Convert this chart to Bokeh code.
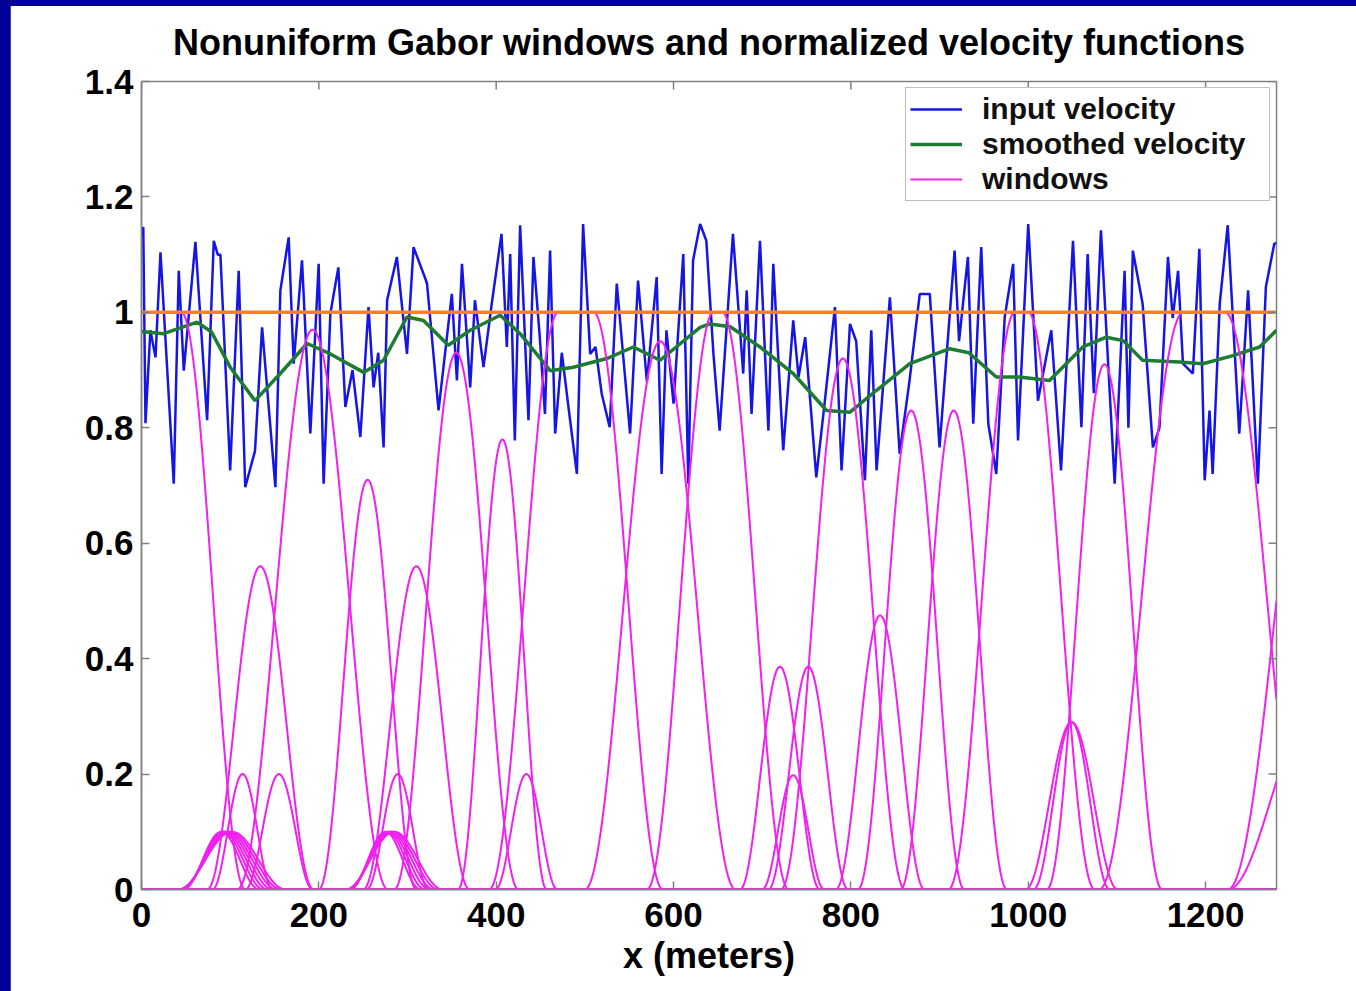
import numpy as np
from bokeh.plotting import figure
from bokeh.models import (Range1d, Legend, LegendItem, FixedTicker, InlineStyleSheet,
                          CustomJSTickFormatter)
from bokeh.layouts import column
from bokeh.embed import file_html
from bokeh.resources import INLINE

# ---------------- data ----------------
x_ticks = [0, 200, 400, 600, 800, 1000, 1200]
y_ticks = [0, 0.2, 0.4, 0.6, 0.8, 1.0, 1.2, 1.4]

vel_x = [0, 2, 4.5, 10, 15.8, 21.4, 36.4, 42, 47.7, 60.8, 74, 81.5, 86, 89, 100, 109.6, 117,
         128, 136, 151, 156.6, 166, 171.6, 181, 190.4, 199.8, 205.4, 213, 222, 229.9, 238,
         246.8, 256, 261.7, 267, 273, 277, 288, 299.4, 306.8, 318, 322, 335, 350, 355.7, 361.4,
         370.7, 376, 385.7, 395, 406, 412, 415.8, 421, 427, 436.4, 442, 449, 455, 460.8, 466.5,
         474, 481.5, 491, 498, 506, 512, 519, 528, 536, 551, 560, 570, 581, 586.6, 592, 600, 611,
         616.7, 622, 630, 637, 645, 652, 667, 678.6, 682.5, 688, 697.5, 707, 712.5, 723.7, 735,
         741, 748.5, 761, 770.7, 782, 789.5, 799, 806, 815.8, 823, 829, 844, 855, 866, 877.7,
         889, 900, 917, 922, 932, 938, 947, 955, 964, 973.5, 983, 988.5, 1000, 1011, 1026, 1037,
         1050.5, 1060, 1067, 1074, 1082, 1097.5, 1108.7, 1113, 1118, 1129, 1140.6, 1148, 1157.6,
         1163, 1169, 1174.5, 1185.7, 1193, 1199, 1204.5, 1208, 1216, 1225, 1238, 1248, 1259,
         1268, 1277.5, 1280]
vel_y = [1.13, 1.148, 0.808, 0.969, 0.922, 1.104, 0.703, 1.072, 0.899, 1.122, 0.813, 1.124,
         1.10, 1.10, 0.726, 1.072, 0.697, 0.76, 0.974, 0.697, 1.038, 1.130, 0.911, 1.09, 0.790,
         1.084, 0.703, 0.998, 1.078, 0.836, 0.90, 0.784, 1.009, 0.870, 0.93, 0.766, 1.021, 1.096,
         0.928, 1.113, 1.067, 1.05, 0.830, 1.032, 0.882, 1.084, 0.870, 1.021, 0.905, 1.015, 1.136,
         0.940, 1.101, 0.778, 1.151, 0.813, 1.096, 0.96, 0.824, 1.107, 0.790, 0.93, 0.836, 0.720,
         1.153, 0.928, 0.94, 0.859, 0.801, 1.050, 0.790, 1.055, 0.88, 1.061, 0.720, 0.969, 0.842,
         1.101, 0.703, 1.090, 1.153, 1.124, 0.928, 0.795, 1.136, 0.894, 1.038, 0.824, 1.124, 0.795,
         1.084, 0.761, 0.986, 0.888, 0.957, 0.714, 0.847, 1.009, 0.726, 0.980, 0.95, 0.709, 0.969,
         0.726, 1.026, 0.755, 0.88, 1.032, 1.032, 0.766, 1.107, 0.95, 1.096, 0.807, 1.113, 0.807,
         0.720, 0.992, 1.084, 0.778, 1.153, 0.847, 0.969, 0.726, 1.124, 0.801, 1.101, 0.86, 1.142,
         0.703, 1.072, 0.80, 1.107, 1.015, 0.766, 0.80, 1.096, 0.99, 1.072, 0.911, 0.894, 1.110,
         0.709, 0.830, 0.720, 1.015, 1.151, 0.790, 1.038, 0.703, 1.044, 1.119, 1.12]

smooth_x = [0, 25, 62.7, 79, 100, 128, 156.6, 186.7, 213, 250.5, 273, 299.4, 318, 346, 370.7,
            404.5, 427, 460.8, 487, 524.7, 554.7, 584.8, 630, 641, 664, 697.5, 735, 772.6, 799,
            829, 866.5, 911.5, 933, 964, 990, 1024, 1061.7, 1088, 1107, 1129, 1170.7, 1197,
            1230.8, 1261, 1280]
smooth_y = [0.967, 0.963, 0.983, 0.966, 0.905, 0.847, 0.894, 0.946, 0.928, 0.896, 0.917, 0.992,
            0.986, 0.943, 0.969, 0.995, 0.963, 0.899, 0.905, 0.920, 0.940, 0.917, 0.974, 0.980,
            0.975, 0.940, 0.894, 0.830, 0.827, 0.865, 0.911, 0.937, 0.930, 0.888, 0.888, 0.882,
            0.940, 0.957, 0.951, 0.917, 0.914, 0.911, 0.925, 0.940, 0.969]

ref_level = 1.0

# Gabor windows: left/right edge of the flat top, peak height, taper half-width (metres)
win_left = [-50, 193, 134, 255, 310, 355, 407, 470, 585, 645, 720, 752, 735, 791, 833, 868,
            916, 985, 1049, 1049, 1086, 1175, 1335, 1320, 114, 155, 289, 434,
            90, 92, 94, 96, 98, 100, 102, 275, 277, 279, 281, 283, 285]
win_right = [45, 193, 134, 255, 310, 355, 407, 510, 585, 655, 720, 752, 735, 791, 833, 868,
             916, 1000, 1049, 1049, 1086, 1222, 1335, 1320, 114, 155, 289, 434,
             90, 92, 94, 96, 98, 100, 102, 275, 277, 279, 281, 283, 285]
win_peak = [1.0, 0.97, 0.56, 0.71, 0.56, 0.93, 0.78, 1.0, 0.95, 1.0, 0.386, 0.386, 0.198,
            0.92, 0.475, 0.83, 0.83, 1.0, 0.29, 0.29, 0.91, 1.0, 1.0, 0.3, 0.2, 0.2, 0.2, 0.2,
            0.1, 0.1, 0.1, 0.1, 0.1, 0.1, 0.1, 0.1, 0.1, 0.1, 0.1, 0.1, 0.1]
win_half = [72, 85, 60, 55, 60, 70, 50, 78, 85, 75, 45, 45, 35, 70, 50, 60, 60, 75, 43, 52, 65,
            95, 110, 95, 34, 38, 35, 35, 43, 46, 49, 52, 55, 58, 61, 40, 43, 46, 49, 52, 55]

legend_labels = ["input velocity", "smoothed velocity", "windows"]
title_text = "Nonuniform Gabor windows and normalized velocity functions"
x_label = "x (meters)"

# ---------------- build window curves ----------------
xs_grid = np.linspace(0, 1280, 1281)
win_xs, win_ys = [], []
for cl, cr, a, w in zip(win_left, win_right, win_peak, win_half):
    d = np.where(xs_grid < cl, cl - xs_grid, np.where(xs_grid > cr, xs_grid - cr, 0.0))
    y = np.where(d < w, a * np.cos(np.pi / 2 * d / w) ** 2, 0.0)
    win_xs.append(xs_grid.tolist())
    win_ys.append(y.tolist())

FONT = "Liberation Sans"
GRAY = "#808080"
NAVY = "#000099"

# thin navy strip across the top of the slide (overlaid on the figure's top edge)
strip = InlineStyleSheet(css=":host::before { content: ''; position: absolute; top: 0; left: -10px; "
                             "width: calc(100% + 10px); height: 6px; background: #000099; z-index: 100; }")

p = figure(width=1346, height=991, output_backend="svg", toolbar_location=None,
           x_range=Range1d(0, 1280), y_range=Range1d(0, 1.4),
           min_border_left=131, min_border_right=80, min_border_top=81,
           min_border_bottom=102, margin=(0, 0, 0, 10), stylesheets=[strip])
p.background_fill_color = "white"
p.border_fill_color = "white"
p.outline_line_color = GRAY
p.outline_line_width = 1.5
p.grid.visible = False

p.title.text = title_text
p.title.align = "center"
p.title.text_font = FONT
p.title.text_font_size = "36px"
p.title.text_font_style = "bold"
p.title.text_color = "black"
p.title.standoff = 37

blue_r = p.line(vel_x, vel_y, line_color="#1515e6", line_width=2.5)
green_r = p.line(smooth_x, smooth_y, line_color="#1e7b32", line_width=3.5)
mag_r = p.multi_line(win_xs, win_ys, line_color="#f020f0", line_width=2)
p.line([0, 1280], [ref_level, ref_level], line_color="#ff7f1f", line_width=3.5)

# inward tick marks on the top and right edges of the box (clipped to the frame)
p.scatter(x_ticks, [1.4] * len(x_ticks), marker="dash", angle=np.pi / 2, size=16,
          line_color=GRAY, line_width=1.5)
p.scatter([1280] * len(y_ticks), y_ticks, marker="dash", size=16,
          line_color=GRAY, line_width=1.5)

fmt = CustomJSTickFormatter(code="var s = tick.toFixed(1); return s.endsWith('.0') ? s.slice(0, -2) : s;")

for ax in (p.xaxis[0], p.yaxis[0]):
    ax.axis_line_color = GRAY
    ax.axis_line_width = 1.5
    ax.major_tick_line_color = GRAY
    ax.major_tick_line_width = 1.5
    ax.major_tick_in = 8
    ax.major_tick_out = 0
    ax.minor_tick_line_color = None
    ax.major_label_text_font = FONT
    ax.major_label_text_font_style = "bold"
    ax.major_label_text_color = "black"
    ax.major_label_text_font_size = "35px"
    ax.major_label_standoff = 8

p.xaxis.major_label_standoff = 13
p.xaxis.ticker = FixedTicker(ticks=x_ticks)
p.yaxis.ticker = FixedTicker(ticks=y_ticks)
p.yaxis.formatter = fmt
p.xaxis.axis_label = x_label
p.xaxis.axis_label_text_font = FONT
p.xaxis.axis_label_text_font_style = "bold"
p.xaxis.axis_label_text_font_size = "36px"
p.xaxis.axis_label_text_color = "black"
p.xaxis.axis_label_standoff = 5

legend = Legend(items=[LegendItem(label=legend_labels[0], renderers=[blue_r]),
                       LegendItem(label=legend_labels[1], renderers=[green_r]),
                       LegendItem(label=legend_labels[2], renderers=[mag_r])],
                location="top_right")
legend.label_text_font = FONT
legend.label_text_font_style = "bold"
legend.label_text_font_size = "30px"
legend.label_text_color = "#111111"
legend.label_height = 32
legend.glyph_height = 32
legend.glyph_width = 52
legend.label_width = 283
legend.label_standoff = 20
legend.spacing = 1
legend.padding = 4
legend.margin = 6
legend.border_line_color = GRAY
legend.border_line_width = 1.5
legend.background_fill_alpha = 1.0
p.add_layout(legend)

layout = column(p, styles={"background-color": NAVY}, width=1356, height=991)
open("out.html", "w").write(file_html(layout, INLINE))
